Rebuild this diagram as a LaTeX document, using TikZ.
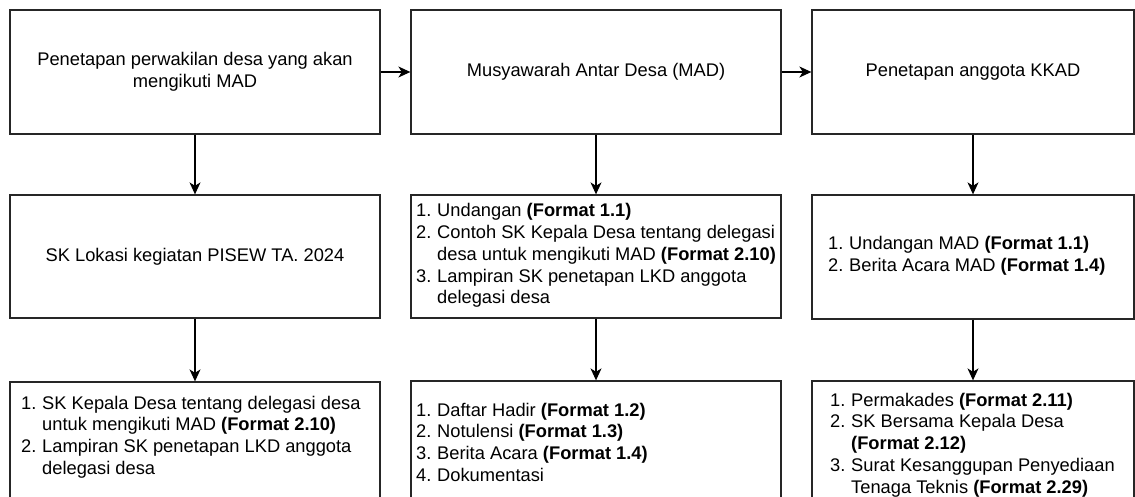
\documentclass[tikz,border=0pt]{standalone}
\usepackage{fontspec}
\setmainfont{Liberation Sans}
\usetikzlibrary{arrows.meta}
\newcommand\fs{\fontsize{18.3}{21.8}\selectfont}
\newcommand\fmt[1]{\textbf{(Format #1)}}
\newcommand\nr[1]{\makebox[21pt][l]{#1}}
\begin{document}
\begin{tikzpicture}[x=1pt,y=-1pt,
  box/.style={draw=black!85, line width=1.3pt, rectangle, inner sep=0pt, font=\fs, text=black, align=center},
  lst/.style={inner sep=0pt, font=\fs, text=black},
  arr/.style={-{Stealth[length=12pt,width=11pt,inset=3.5pt]}, line width=1.2pt, black}]
\useasboundingbox (0,0) rectangle (1135,497);
\clip (0,0) rectangle (1135,497);
% top row
\node[box, minimum width=370pt, minimum height=124pt] (a1) at (195,72) {Penetapan perwakilan desa yang akan\\mengikuti MAD};
\node[box, minimum width=370pt, minimum height=124pt] (a2) at (596,72) {Musyawarah Antar Desa (MAD)};
\node[box, minimum width=322pt, minimum height=124pt] (a3) at (973,72) {Penetapan anggota KKAD};
% middle row
\node[box, minimum width=370pt, minimum height=123pt] (b1) at (195,256.5) {SK Lokasi kegiatan PISEW TA. 2024};
\node[box, minimum width=370pt, minimum height=123pt] (b2) at (596,256.5) {};
\node[box, minimum width=322pt, minimum height=124pt] (b3) at (973,257) {};
% bottom row
\node[box, minimum width=370pt, minimum height=160pt] (c1) at (195,462) {};
\node[box, minimum width=370pt, minimum height=160pt] (c2) at (596,461) {};
\node[box, minimum width=322pt, minimum height=160pt] (c3) at (973,461) {};
% list texts
\node[lst, anchor=west] (b2t) at (416,256) {\begin{tabular}{@{}l@{}l@{}}
\nr{1.}&Undangan \fmt{1.1}\\
\nr{2.}&Contoh SK Kepala Desa tentang delegasi\\
&desa untuk mengikuti MAD \fmt{2.10}\\
\nr{3.}&Lampiran SK penetapan LKD anggota\\
&delegasi desa
\end{tabular}};
\node[lst, anchor=west] (b3t) at (828,256) {\begin{tabular}{@{}l@{}l@{}}
\nr{1.}&Undangan MAD \fmt{1.1}\\
\nr{2.}&Berita Acara MAD \fmt{1.4}
\end{tabular}};
\node[lst, anchor=north west] (c1t) at (21,393.7) {\begin{tabular}{@{}l@{}l@{}}
\nr{1.}&SK Kepala Desa tentang delegasi desa\\
&untuk mengikuti MAD \fmt{2.10}\\
\nr{2.}&Lampiran SK penetapan LKD anggota\\
&delegasi desa
\end{tabular}};
\node[lst, anchor=north west] (c2t) at (416,400.7) {\begin{tabular}{@{}l@{}l@{}}
\nr{1.}&Daftar Hadir \fmt{1.2}\\
\nr{2.}&Notulensi \fmt{1.3}\\
\nr{3.}&Berita Acara \fmt{1.4}\\
\nr{4.}&Dokumentasi
\end{tabular}};
\node[lst, anchor=north west] (c3t) at (830,390.7) {\begin{tabular}{@{}l@{}l@{}}
\nr{1.}&Permakades \fmt{2.11}\\
\nr{2.}&SK Bersama Kepala Desa\\
&\fmt{2.12}\\
\nr{3.}&Surat Kesanggupan Penyediaan\\
&Tenaga Teknis \fmt{2.29}
\end{tabular}};
% connectors
\draw[arr] (a1) -- (a2);
\draw[arr] (a2) -- (a3);
\draw[arr] (a1) -- (b1);
\draw[arr] (a2) -- (b2);
\draw[arr] (a3) -- (b3);
\draw[arr] (b1) -- (c1);
\draw[arr] (b2) -- (c2);
\draw[arr] (b3) -- (c3);
\end{tikzpicture}
\end{document}
